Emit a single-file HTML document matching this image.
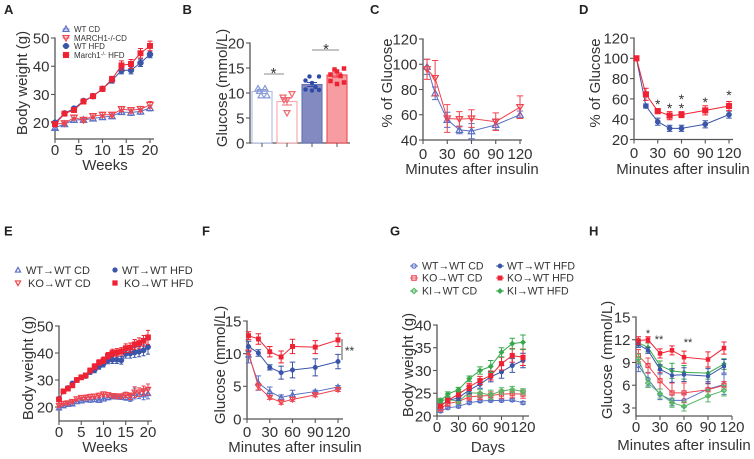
<!DOCTYPE html>
<html>
<head>
<meta charset="utf-8">
<title>Body weight and glucose panels</title>
<style>
html,body{margin:0;padding:0;background:#fff;}
body{width:754px;height:459px;overflow:hidden;}
svg{display:block;}
text{font-family:"Liberation Sans",sans-serif;fill:#333;}
</style>
</head>
<body>
<svg id="fig" width="754" height="459" viewBox="0 0 754 459" xmlns="http://www.w3.org/2000/svg"></svg>
<script>
const BLUE='#3b55a8', RED='#ee2233', GREEN='#36a94b', LBLUE='#5a70c4', LRED='#f0454f', LGREEN='#55b765';

/* Panel A */
const aWeeks=[0,2,4,6,8,10,12,14,16,18,20];
const aWtCd=[18.2,19.5,21,21,21.5,22,22.3,23.8,23.6,24,25.2];
const aWtCdErr=[.5,.5,.8,.8,.8,.8,.8,.8,1,1,1];
const aKoCd=[19.5,19.8,21.8,21,22.3,22.8,22.8,24.8,24.4,24.8,26.3];
const aKoCdErr=[.5,.5,.8,.8,.8,.8,.8,.8,1,1,1.2];
const aWtHfd=[20,23.3,25,27.7,29.4,32,35,38.5,38.6,41.2,44.2];
const aWtHfdErr=[.5,.5,.6,.6,.6,.8,1,1.2,1.3,1.3,1.2];
const aKoHfd=[19.5,23.2,24.5,27.5,29.4,32,35.4,40.3,40.8,44.6,47.2];
const aKoHfdErr=[.5,.5,.6,.6,.6,.8,1,1.6,1.6,1.7,1.7];
const aXTicks=[0,5,10,15,20];
const aYTicks=[20,30,40,50];

/* Panel B */
const bCategories=['WT CD','KO CD','WT HFD','KO HFD'];
const bMeans=[10.3,8.3,11.7,13.6];
const bErrs=[.4,.7,.4,.4];
const bWtCdPoints=[10.9,10.9,9.5,9.5,10.4];
const bKoCdPoints=[9.1,9.8,8.6,8.6,6];
const bWtHfdPoints=[12.5,13.3,13.3,12,11.2,10.7,10.5,10.6];
const bKoHfdPoints=[13.7,14.7,14.9,14.3,13.4,12.4,11.8,12.1];
const bYTicks=[0,5,10,15,20];

/* Panel C */
const cMinutes=[5,15,30,45,60,90,120];
const cWt=[98,77,56,48,47,52,60];
const cWtErr=[6,5,6,3,6,4,3];
const cKo=[96,89,57,56.5,57,54.5,66];
const cKoErr=[8,14,11,6,7,7,9];
const cXTicks=[0,30,60,90,120];
const cYTicks=[40,60,80,100,120];

/* Panel D */
const dMinutes=[3,15,30,45,60,90,120];
const dWt=[100,53,37.5,31,31,35,44.5];
const dWtErr=[1,2,3.5,3,3,3.5,3.5];
const dKo=[100,64.5,48,43.5,44.5,48.7,53];
const dKoErr=[2,6,2.5,4,3,4.5,4.5];
const dXTicks=[0,30,60,90,120];
const dYTicks=[20,40,60,80,100,120];

/* Panel E */
const eWeeks=[0,1,2,3,4,5,6,7,8,9,10,11,12,13,14,15,16,17,18,19,20];
const eWtCd=[19.7,20.5,21,21.2,22,22.3,22.8,22.6,22.8,22.5,23,23.5,23.8,23.8,23.7,23.5,23.3,25,24.7,24.5,25];
const eKoCd=[20.5,21.3,21.5,22,23,23.5,23.5,23.8,24,24.3,24.8,24.5,24.2,24,24,24.5,24,25.5,25.5,26,26.5];
const eWtHfd=[23,25.8,27,28.7,30,31,31.5,33,33.7,35,36,37.2,37.5,37.5,37.3,39.7,39.8,40.2,40.5,41,42.2];
const eKoHfd=[22.8,25.8,26.8,28,30,31,31.7,33.5,35,36.5,37.3,39,40,40.2,40.6,41.8,42,43.2,43.7,44.5,45.8];
const eCdErr=[.6,.6,.6,.6,.7,.7,.9,.9,.8,.8,.8,.8,.8,.9,.9,1,1.2,2,1.6,1.8,2];
const eHfdErr=[.6,.6,.7,.7,.7,.7,.8,.9,1,1,1.2,1.2,1.4,1.4,1.4,1.6,1.7,1.8,1.9,2,2.6];
const eXTicks=[0,5,10,15,20];
const eYTicks=[20,30,40,50];

/* Panel F */
const fMinutes=[2,15,30,45,60,90,120];
const fWtCd=[9.8,5.5,4.2,3.3,3.7,4.2,4.9];
const fWtCdErr=[1.2,1.1,.7,.4,.7,.2,.2];
const fKoCd=[10.2,4.95,3.3,2.55,3,3.7,4.5];
const fKoCdErr=[.3,.5,.3,.3,.3,.3,.3];
const fWtHfd=[11.1,10.1,7.9,7.1,7.5,7.9,8.8];
const fWtHfdErr=[.8,.5,.4,1,1.2,1.3,1.1];
const fKoHfd=[12.75,12.25,10.3,9.5,11.1,11,12.1];
const fKoHfdErr=[.6,.8,.8,.9,1.1,1,1];
const fXTicks=[0,30,60,90,120];
const fYTicks=[0,5,10,15];

/* Panel G */
const gDays=[5,15,30,45,60,75,90,105,120];
const gWtCd=[21.1,21.8,22.1,22.9,23.3,23.4,23.4,23.5,22.9];
const gWtCdErr=[.3,.3,.3,.3,.3,.3,.3,.3,.3];
const gKoCd=[21.6,22.7,23.2,24.2,24.4,24.5,24.8,24.9,24.8];
const gKoCdErr=[.5,.5,.5,.7,.8,.8,.9,.9,.9];
const gKiCd=[23.4,23.6,23.3,25.1,25,24.7,25.5,25.8,25.4];
const gKiCdErr=[.5,.5,.6,.8,.8,1,.7,.7,.6];
const gWtHfd=[22.2,23.4,24,25.7,27,28.6,29.7,31.1,32.2];
const gWtHfdErr=[.4,.5,.6,.8,.9,1.1,1.4,1.5,1.6];
const gKoHfd=[22.2,23.4,24.8,26.4,27.8,28.9,31.5,33.3,32.9];
const gKoHfdErr=[.5,.5,.6,.8,.9,1,1.4,1.5,1.8];
const gKiHfd=[23.3,24.8,25.8,28.2,30,30.9,34,35.9,36.2];
const gKiHfdErr=[.4,.5,.5,.6,.8,1.3,1,1.2,1.6];
const gXTicks=[0,30,60,90,120];
const gYTicks=[20,25,30,35,40];

/* Panel H */
const hMinutes=[3,15,30,45,60,90,110];
const hWtCd=[8.6,6.8,4.8,4,4,5.5,6.1];
const hWtCdErr=[.8,.9,.7,.7,.9,1,1.3];
const hKoCd=[9.9,8.6,6.6,5,5,5.4,6];
const hKoCdErr=[.8,1,1.1,1.3,1.3,.9,.5];
const hKiCd=[9.5,6.3,4.9,3.7,3.2,4.6,5.3];
const hKiCdErr=[.6,.6,.6,.6,.6,.8,.7];
const hWtHfd=[11.4,10.6,8.1,7.3,7.4,7.2,8.5];
const hWtHfdErr=[.4,.4,.6,.9,.9,1,.9];
const hKoHfd=[11.9,12,10.2,10.6,9.7,9.4,10.9];
const hKoHfdErr=[.5,.4,.6,.6,.8,1,.8];
const hKiHfd=[11.6,11,8.6,7.9,7.7,7.6,8.8];
const hKiHfdErr=[.4,.6,.6,1,.9,.8,.7];
const hXTicks=[0,30,60,90,120];
const hYTicks=[3,6,9,12,15];

const NS='http://www.w3.org/2000/svg';
const fig=document.getElementById('fig');

function mk(tag,attrs,parent,name){
  const el=document.createElementNS(NS,tag);
  for(const k in attrs) el.setAttribute(k,attrs[k]);
  
  
  (parent||fig).appendChild(el);
  return el;
}
function txt(s,x,y,size,anchor,parent,name,extra){
  const t=mk('text',Object.assign({x:x,y:y,'font-size':size,'text-anchor':anchor||'start'},extra||{}),parent,name);
  t.textContent=s;
  return t;
}
function scale(d0,d1,p0,p1){return v=>p0+(v-d0)*(p1-p0)/(d1-d0);}

function marker(kind,x,y,s,color,parent,name){
  const sw=1.2;
  const open={fill:'none',stroke:color,'stroke-width':sw};
  const solid={fill:color,stroke:color,'stroke-width':.5};
  if(kind==='tri-up') return mk('polygon',Object.assign({points:`${x},${y-s} ${x+s},${y+s*.8} ${x-s},${y+s*.8}`},open),parent,name);
  if(kind==='tri-down') return mk('polygon',Object.assign({points:`${x},${y+s} ${x+s},${y-s*.8} ${x-s},${y-s*.8}`},open),parent,name);
  if(kind==='circle') return mk('circle',Object.assign({cx:x,cy:y,r:s},solid),parent,name);
  if(kind==='square') return mk('rect',Object.assign({x:x-s,y:y-s,width:2*s,height:2*s},solid),parent,name);
  if(kind==='o-circle') return mk('circle',Object.assign({cx:x,cy:y,r:s},open),parent,name);
  if(kind==='o-square') return mk('rect',Object.assign({x:x-s,y:y-s,width:2*s,height:2*s},open),parent,name);
  if(kind==='o-diamond') return mk('polygon',Object.assign({points:`${x},${y-s*1.2} ${x+s*1.2},${y} ${x},${y+s*1.2} ${x-s*1.2},${y}`},open),parent,name);
  if(kind==='diamond') return mk('polygon',Object.assign({points:`${x},${y-s*1.25} ${x+s*1.25},${y} ${x},${y+s*1.25} ${x-s*1.25},${y}`},solid),parent,name);
}

function axes(p){
  const g=mk('g',{},fig,p.id+'-axes');
  const col='#555';
  mk('line',{x1:p.px0,x2:p.px0,y1:p.sy(p.yTicks[p.yTicks.length-1])-.6,y2:p.axisY+.6,stroke:col,'stroke-width':1.3},g,p.id+'-y-axis');
  mk('line',{x1:p.px0,x2:p.xEnd,y1:p.axisY,y2:p.axisY,stroke:col,'stroke-width':1.3},g,p.id+'-x-axis');
  p.yTicks.forEach(v=>{
    const y=p.sy(v);
    mk('line',{x1:p.px0-4,x2:p.px0,y1:y,y2:y,stroke:col,'stroke-width':1.1},g,p.id+'-y-tick');
    txt(String(v),p.px0-5.5,y+5.4,p.fs||15,'end',g,p.id+'-y-tick-label');
  });
  (p.xTicks||[]).forEach(v=>{
    const x=p.sx(v);
    mk('line',{x1:x,x2:x,y1:p.axisY,y2:p.axisY+4,stroke:col,'stroke-width':1.1},g,p.id+'-x-tick');
    txt(String(v),x,p.tickBase,p.fs||15,'middle',g,p.id+'-x-tick-label');
  });
  if(p.xTitle) txt(p.xTitle,p.xTitleX,p.titleBase,15,'middle',g,p.id+'-x-axis-title');
  const yt=txt(p.yTitle,0,0,15,'middle',g,p.id+'-y-axis-title');
  yt.setAttribute('transform',`translate(${p.yTitleX},${p.yTitleY}) rotate(-90)`);
}

function series(p,xs,ys,errs,kind,color,size,name,lw){
  const g=mk('g',{},fig,p.id+'-series-'+name);
  const pts=xs.map((x,i)=>p.sx(x)+','+p.sy(ys[i])).join(' ');
  mk('polyline',{points:pts,fill:'none',stroke:color,'stroke-width':lw||1},g,p.id+'-line-'+name);
  const cap=p.cap||2.8;
  xs.forEach((x,i)=>{
    const cx=p.sx(x), t=p.sy(ys[i]+errs[i]), b=p.sy(ys[i]-errs[i]);
    mk('path',{d:`M${cx} ${t}V${b}M${cx-cap} ${t}H${cx+cap}M${cx-cap} ${b}H${cx+cap}`,fill:'none',stroke:color,'stroke-width':1},g,p.id+'-error-bar-'+name);
    marker(kind,cx,p.sy(ys[i]),size,color,g,p.id+'-point-'+name);
  });
}

function star(s,x,y,size,name){
  txt(s,x,y,size||13,'middle',fig,name);
}
function letter(s,x,y){
  txt(s,x,y,13,'start',fig,'panel-label-'+s.toLowerCase(),{'font-weight':'bold',style:'fill:#222'});
}

/* ---- Panel labels ---- */
letter('A',4,14); letter('B',182.5,14); letter('C',370,14); letter('D',579,14);
letter('E',4,235.5); letter('F',202,235.5); letter('G',390,235.5); letter('H',589,235.5);

/* ---- A ---- */
const pA={id:'panel-a',px0:55,xEnd:154,axisY:139,sx:scale(0,20,55,150),sy:scale(20,50,122.7,38),
  xTicks:aXTicks,yTicks:aYTicks,tickBase:155,titleBase:170,xTitle:'Weeks',xTitleX:105,yTitle:'Body weight (g)',yTitleX:27,yTitleY:83,cap:2.5};
axes(pA);
series(pA,aWeeks,aWtCd,aWtCdErr,'tri-up',LBLUE,3.2,'wt-cd');
series(pA,aWeeks,aKoCd,aKoCdErr,'tri-down',LRED,3.2,'march1-ko-cd');
series(pA,aWeeks,aWtHfd,aWtHfdErr,'circle',BLUE,3,'wt-hfd');
series(pA,aWeeks,aKoHfd,aKoHfdErr,'square',RED,2.7,'march1-ko-hfd');
const legA=mk('g',{},fig,'panel-a-legend');
[['tri-up',LBLUE,'WT CD',29],['tri-down',LRED,'MARCH1-/-CD',38],['circle',BLUE,'WT HFD',46],['square',RED,'March1',55]].forEach(r=>{
  mk('line',{x1:62.5,x2:69.5,y1:r[3],y2:r[3],stroke:r[1],'stroke-width':.8},legA,'legend-line');
  marker(r[0],66,r[3],r[0].startsWith('tri')?3:2.8,r[1],legA,'legend-marker');
  const t=txt(r[2],74,r[3]+3,8,'start',legA,'legend-entry');
  if(r[2]==='March1'){
    const s=mk('tspan',{dy:-2.5,'font-size':5.5},t,'legend-superscript');
    s.textContent='-/-';
    const e=mk('tspan',{dy:2.5},t,'legend-suffix');
    e.textContent=' HFD';
  }
});

/* ---- B ---- */
const pB={id:'panel-b',px0:250,xEnd:350,axisY:143,sx:v=>v,sy:scale(0,20,143,43),yTicks:bYTicks,yTitle:'Glucose (mmol/L)',yTitleX:227,yTitleY:88};
axes(pB);
const bCenters=i=>262+i*25;
const bStyles=[
  {fill:'#fff',stroke:'#aebbe2',pt:'#8a9bd6',kind:'tri-up'},
  {fill:'#fff',stroke:'#f5a7ab',pt:'#ee6a72',kind:'tri-down'},
  {fill:'#8389c1',stroke:'#6472b6',pt:'#2c4aa6',kind:'circle'},
  {fill:'#f79da1',stroke:'#ee4a52',pt:'#ee2233',kind:'square'}];
const bPoints=[bWtCdPoints,bKoCdPoints,bWtHfdPoints,bKoHfdPoints];
function swarmOffset(n,j,i){
  const small=i===0?[-4,3,-1,5,-2.5]:[-4,5,0,-3,0];
  const big=[-6.5,-2.5,7,0,3.5,-6.5,0,7];
  return n<=5?small[j%5]:big[j%8];
}
bCategories.forEach((c,i)=>{
  const cx=bCenters(i), st=bStyles[i], g=mk('g',{},fig,'panel-b-group-'+i);
  const top=pB.sy(bMeans[i]);
  mk('rect',{x:cx-10,y:top,width:20,height:143-top,fill:st.fill,stroke:st.stroke,'stroke-width':1.1},g,'bar-'+c.toLowerCase().replace(' ','-'));
  mk('line',{x1:cx,x2:cx,y1:143,y2:147,stroke:'#555','stroke-width':1},g,'panel-b-x-tick');
  const t=pB.sy(bMeans[i]+bErrs[i]), b=pB.sy(bMeans[i]-bErrs[i]);
  mk('path',{d:`M${cx} ${t}V${b}M${cx-5} ${t}H${cx+5}M${cx-5} ${b}H${cx+5}`,fill:'none',stroke:st.pt,'stroke-width':.9},g,'panel-b-error-bar');
  bPoints[i].forEach((v,j)=>{
    marker(st.kind,cx+swarmOffset(bPoints[i].length,j,i),pB.sy(v),i<2?3:2,st.pt,g,'panel-b-point');
  });
});
mk('line',{x1:264,x2:284,y1:74,y2:74,stroke:'#888','stroke-width':1},fig,'panel-b-bracket-cd');
star('*',273.5,78,15,'panel-b-significance-cd');
mk('line',{x1:312,x2:339,y1:50,y2:50,stroke:'#888','stroke-width':1},fig,'panel-b-bracket-hfd');
star('*',326,54,15,'panel-b-significance-hfd');

/* ---- C ---- */
const pC={id:'panel-c',px0:423,xEnd:522,axisY:140,sx:scale(0,120,423,520),sy:scale(40,120,140,39),
  xTicks:cXTicks,yTicks:cYTicks,tickBase:159,titleBase:174,xTitle:'Minutes after insulin',xTitleX:472,yTitle:'% of Glucose',yTitleX:392,yTitleY:83,cap:3.2};
axes(pC);
series(pC,cMinutes,cWt,cWtErr,'tri-up',LBLUE,3.2,'wt');
series(pC,cMinutes,cKo,cKoErr,'tri-down',LRED,3.2,'ko');

/* ---- D ---- */
const pD={id:'panel-d',px0:634,xEnd:733,axisY:139.5,sx:scale(0,120,634,729),sy:scale(20,120,139.5,38),
  xTicks:dXTicks,yTicks:dYTicks,tickBase:158,titleBase:174,xTitle:'Minutes after insulin',xTitleX:683,yTitle:'% of Glucose',yTitleX:600,yTitleY:83,cap:2.8};
axes(pD);
series(pD,dMinutes,dWt,dWtErr,'circle',BLUE,2.6,'wt');
series(pD,dMinutes,dKo,dKoErr,'square',RED,2.8,'ko');
[[30,109],[45,113],[60,104],[60,113],[90,107],[120,100]].forEach(s=>star('*',pD.sx(s[0]),s[1],14,'panel-d-significance'));

/* ---- E ---- */
const pE={id:'panel-e',px0:59,xEnd:152,axisY:421,sx:scale(0,20,59,148),sy:scale(20,50,407,326),
  xTicks:eXTicks,yTicks:eYTicks,tickBase:437,titleBase:452,xTitle:'Weeks',xTitleX:105,yTitle:'Body weight (g)',yTitleX:33,yTitleY:368,cap:2};
axes(pE);
series(pE,eWeeks,eWtCd,eCdErr,'tri-up',LBLUE,2.6,'wt-cd');
series(pE,eWeeks,eKoCd,eCdErr,'tri-down',LRED,2.6,'ko-cd');
series(pE,eWeeks,eWtHfd,eHfdErr,'circle',BLUE,2.7,'wt-hfd');
series(pE,eWeeks,eKoHfd,eHfdErr,'square',RED,2.6,'ko-hfd');
const legE=mk('g',{},fig,'panel-e-legend');
[['tri-up',LBLUE,'WT→WT CD',18,26,270],['tri-down',LRED,'KO→WT CD',18,28,283],['circle',BLUE,'WT→WT HFD',115,122,270],['square',RED,'KO→WT HFD',115,124,283]].forEach(r=>{
  marker(r[0],r[3],r[5],r[0].startsWith('tri')?2.6:2.4,r[1],legE,'legend-marker');
  txt(r[2],r[4],r[5]+3.8,11,'start',legE,'legend-entry');
});

/* ---- F ---- */
const pF={id:'panel-f',px0:247,xEnd:343,axisY:419,sx:scale(0,120,247,338),sy:scale(0,15,419,321),
  xTicks:fXTicks,yTicks:fYTicks,tickBase:437,titleBase:452,xTitle:'Minutes after insulin',xTitleX:295,yTitle:'Glucose (mmol/L)',yTitleX:225,yTitleY:365,cap:2.8};
axes(pF);
series(pF,fMinutes,fWtCd,fWtCdErr,'tri-up',LBLUE,2.6,'wt-cd');
series(pF,fMinutes,fKoCd,fKoCdErr,'tri-down',LRED,2.6,'ko-cd');
series(pF,fMinutes,fWtHfd,fWtHfdErr,'circle',BLUE,2.3,'wt-hfd');
series(pF,fMinutes,fKoHfd,fKoHfdErr,'square',RED,2.2,'ko-hfd');
mk('line',{x1:342,x2:342,y1:339,y2:360,stroke:'#555','stroke-width':1},fig,'panel-f-bracket');
star('**',349.5,355,12,'panel-f-significance');

/* ---- G ---- */
const pG={id:'panel-g',px0:437,xEnd:529,axisY:416,sx:scale(0,120,437,523),sy:scale(20,40,416,325),
  xTicks:gXTicks,yTicks:gYTicks,tickBase:432,titleBase:452,xTitle:'Days',xTitleX:488,yTitle:'Body weight (g)',yTitleX:413,yTitleY:365,cap:2.8};
axes(pG);
series(pG,gDays,gWtCd,gWtCdErr,'o-circle',LBLUE,2,'wt-cd');
series(pG,gDays,gKoCd,gKoCdErr,'o-square',LRED,2,'ko-cd');
series(pG,gDays,gKiCd,gKiCdErr,'o-diamond',LGREEN,2,'ki-cd');
series(pG,gDays,gWtHfd,gWtHfdErr,'circle',BLUE,2.3,'wt-hfd');
series(pG,gDays,gKoHfd,gKoHfdErr,'square',RED,2.3,'ko-hfd');
series(pG,gDays,gKiHfd,gKiHfdErr,'diamond',GREEN,2.2,'ki-hfd');
const legG=mk('g',{},fig,'panel-g-legend');
[['o-circle',LBLUE,'WT→WT CD',414,422,266],['o-square',LRED,'KO→WT CD',414,422,278],['o-diamond',LGREEN,'KI→WT CD',414,422,291],
 ['circle',BLUE,'WT→WT HFD',500,507,266],['square',RED,'KO→WT HFD',500,507,278],['diamond',GREEN,'KI→WT HFD',500,507,291]].forEach(r=>{
  mk('line',{x1:r[3]-4,x2:r[3]+4,y1:r[5],y2:r[5],stroke:r[1],'stroke-width':.9},legG,'legend-line');
  marker(r[0],r[3],r[5],2.2,r[1],legG,'legend-marker');
  txt(r[2],r[4],r[5]+3.6,10.6,'start',legG,'legend-entry');
});

/* ---- H ---- */
const pH={id:'panel-h',px0:636,xEnd:732,axisY:416,sx:scale(0,120,636,732),sy:scale(3,15,408,317),
  xTicks:hXTicks,yTicks:hYTicks,tickBase:432,titleBase:450,xTitle:'Minutes after insulin',xTitleX:684,yTitle:'Glucose (mmol/L)',yTitleX:612,yTitleY:360,cap:2.6};
axes(pH);
series(pH,hMinutes,hWtCd,hWtCdErr,'o-circle',LBLUE,2,'wt-cd');
series(pH,hMinutes,hKoCd,hKoCdErr,'o-square',LRED,2,'ko-cd');
series(pH,hMinutes,hKiCd,hKiCdErr,'o-diamond',LGREEN,2,'ki-cd');
series(pH,hMinutes,hKiHfd,hKiHfdErr,'diamond',GREEN,2,'ki-hfd');
series(pH,hMinutes,hWtHfd,hWtHfdErr,'circle',BLUE,2,'wt-hfd');
series(pH,hMinutes,hKoHfd,hKoHfdErr,'square',RED,2,'ko-hfd');
star('*',648,337,11,'panel-h-significance-15');
star('**',659,343,11,'panel-h-significance-30');
star('**',688,346,11,'panel-h-significance-60');
</script>
</body>
</html>
